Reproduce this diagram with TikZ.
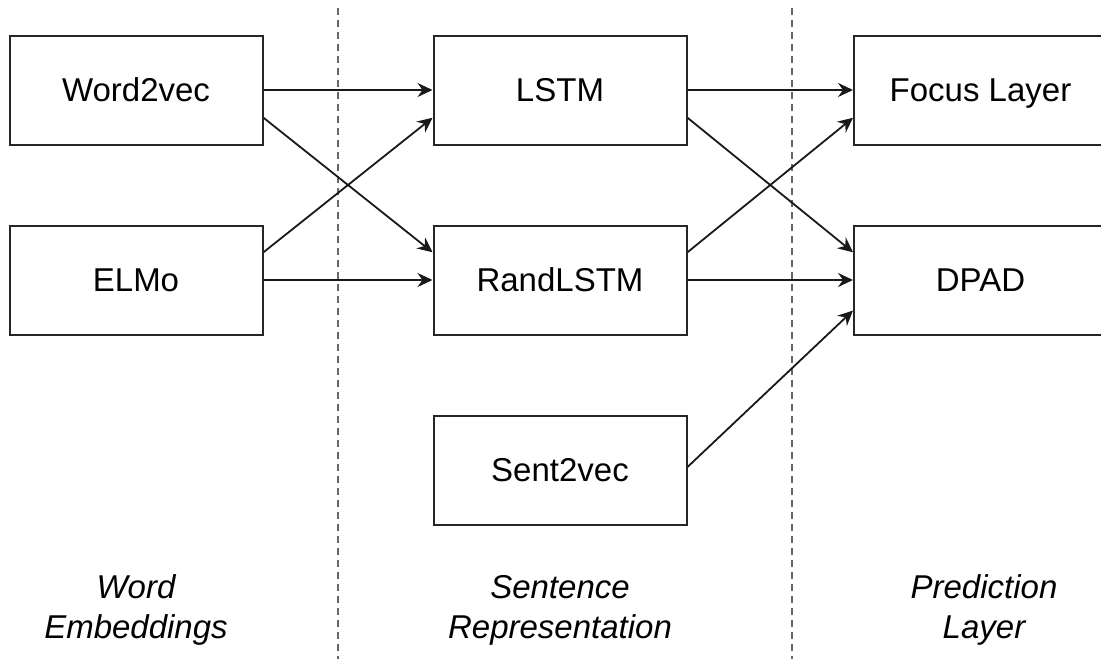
\documentclass[tikz,border=0pt]{standalone}
\usepackage{fontspec}
\setmainfont{Liberation Sans}
\usetikzlibrary{arrows.meta,calc}
\begin{document}
\begin{tikzpicture}[x=1pt,y=-1pt,
  box/.style={draw=black!85,line width=2pt,rectangle,minimum width=253pt,minimum height=109pt,inner sep=0pt,text height=23.6pt,text depth=0pt,font=\fontsize{33}{40}\selectfont},
  conn/.style={line width=1.8pt,black!90,-{Stealth[length=15pt,width=14pt,inset=5pt]}},
  sep/.style={draw=black!60,line width=2pt,dash pattern=on 7pt off 5pt},
  lab/.style={align=center,font=\fontsize{33}{40}\selectfont\itshape}]
\useasboundingbox (0,0) rectangle (1101,659);
\begin{scope}
\clip (0,0) rectangle (1101,659);
\draw[sep] (338,8) coordinate (s1a) -- (338,659) coordinate (s1b);
\draw[sep] (792,8) coordinate (s2a) -- (792,659) coordinate (s2b);
\node[box] (w2v) at (136,90) {Word2vec};
\node[box] (elmo) at (136,280) {ELMo};
\node[box] (lstm) at (560,90) {LSTM};
\node[box] (rand) at (560,280) {RandLSTM};
\node[box] (s2v) at (560,470) {Sent2vec};
\node[box] (focus) at (980.5,90) {Focus Layer};
\node[box] (dpad) at (980.5,280) {DPAD};
\end{scope}
\node[lab] (l1) at (136,610) {Word\\Embeddings};
\node[lab] (l2) at (560,610) {Sentence\\Representation};
\node[lab] (l3) at (984,610) {Prediction\\Layer};
% connectors
\draw[conn] (w2v.east) -- (lstm.west);
\draw[conn] ($(w2v.east)!0.5!(w2v.south east)$) -- ($(rand.west)!0.5!(rand.north west)$);
\draw[conn] ($(elmo.east)!0.5!(elmo.north east)$) -- ($(lstm.west)!0.5!(lstm.south west)$);
\draw[conn] (elmo.east) -- (rand.west);
\draw[conn] (lstm.east) -- (focus.west);
\draw[conn] ($(lstm.east)!0.5!(lstm.south east)$) -- ($(dpad.west)!0.5!(dpad.north west)$);
\draw[conn] ($(rand.east)!0.5!(rand.north east)$) -- ($(focus.west)!0.5!(focus.south west)$);
\draw[conn] (rand.east) -- (dpad.west);
\draw[conn] ($(s2v.east)+(0,-3)$) -- ($(dpad.west)!0.55!(dpad.south west)$);
\end{tikzpicture}
\end{document}
